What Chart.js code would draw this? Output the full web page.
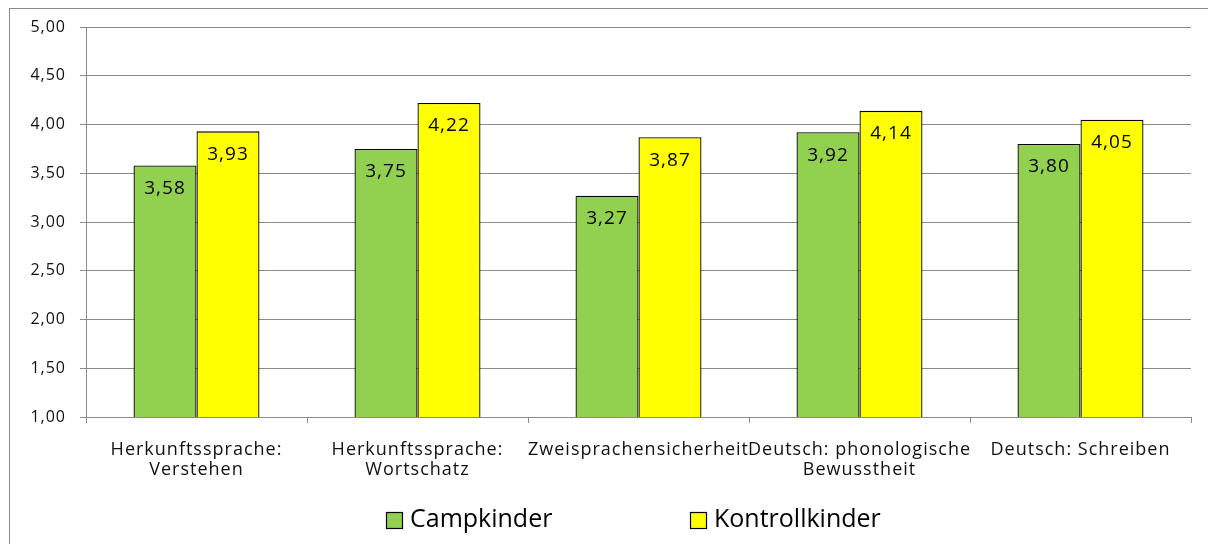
<!DOCTYPE html>
<html>
<head>
<meta charset="utf-8">
<script src="https://cdn.jsdelivr.net/npm/chart.js@4.4.0/dist/chart.umd.min.js"></script>
<style>
  html, body { margin: 0; padding: 0; background: #fff; overflow: hidden; }
  #wrap { position: relative; width: 1208px; height: 544px; }
  #rahmen { position: absolute; left: 9px; top: 8px; width: 1400px; height: 800px; border: 1px solid #8a8a8a; }
  #wrap canvas { position: absolute; left: 0; top: 0; }
</style>
</head>
<body>
<div id="wrap">
  <div id="rahmen"></div>
  <canvas id="myChart" width="1208" height="544"></canvas>
</div>
<script>
// Daten
const kategorien = [
    ['Herkunftssprache:', 'Verstehen'],
    ['Herkunftssprache:', 'Wortschatz'],
    'Zweisprachensicherheit',
    ['Deutsch: phonologische', 'Bewusstheit'],
    'Deutsch: Schreiben'
];
const campkinder = [3.58, 3.75, 3.27, 3.92, 3.80];
const kontrollkinder = [3.93, 4.22, 3.87, 4.14, 4.05];
const serienNamen = ['Campkinder', 'Kontrollkinder'];
const yTicks = [1.0, 1.5, 2.0, 2.5, 3.0, 3.5, 4.0, 4.5, 5.0];

const schrift = "'Open Sans', 'DejaVu Sans', sans-serif";

function komma(v){
    return v.toFixed(2).replace('.', ',');
}

// etwas breitere Schrift wie im Original
const abstandPlugin = {
    id: 'abstand',
    beforeDraw(chart){
        chart.ctx.letterSpacing = '1px';
    }
};

// Werte oben in den Balken
const wertePlugin = {
    id: 'werte',
    afterDatasetsDraw(chart){
        const ctx = chart.ctx;
        ctx.save();
        ctx.letterSpacing = '1px';
        ctx.font = '19px ' + schrift;
        ctx.fillStyle = '#000';
        ctx.textAlign = 'center';
        ctx.textBaseline = 'middle';
        chart.data.datasets.forEach((ds, i) => {
            chart.getDatasetMeta(i).data.forEach((bar, j) => {
                ctx.fillText(komma(ds.data[j]), bar.x, bar.y + 23);
            });
        });
        ctx.restore();
    }
};

// Legende unten
const legendePlugin = {
    id: 'legende',
    afterDraw(chart){
        const ctx = chart.ctx;
        const positionen = [386, 690];
        const y = 520;
        ctx.save();
        ctx.letterSpacing = '0px';
        ctx.font = '25px ' + schrift;
        ctx.textBaseline = 'middle';
        chart.data.datasets.forEach((ds, i) => {
            const x = positionen[i];
            ctx.fillStyle = ds.backgroundColor;
            ctx.fillRect(x, y - 8, 16, 16);
            ctx.strokeStyle = '#000';
            ctx.lineWidth = 1.2;
            ctx.strokeRect(x + 0.5, y - 7.5, 16, 16);
            ctx.fillStyle = '#000';
            ctx.fillText(ds.label, x + 24, y);
        });
        ctx.restore();
    }
};

const ctx = document.getElementById('myChart').getContext('2d');
const myChart = new Chart(ctx, {
    type: 'bar',
    data: {
        labels: kategorien,
        datasets: [{
            label: serienNamen[0],
            data: campkinder,
            backgroundColor: '#92D050',
            borderColor: '#000',
            borderWidth: 1.3
        }, {
            label: serienNamen[1],
            data: kontrollkinder,
            backgroundColor: '#FFFF00',
            borderColor: '#000',
            borderWidth: 1.3
        }]
    },
    options: {
        responsive: false,
        animation: false,
        layout: { padding: { top: 27, right: 17, left: 0, bottom: 0 } },
        datasets: {
            bar: { categoryPercentage: 0.57, barPercentage: 1.0 }
        },
        plugins: {
            legend: { display: false },
            tooltip: { enabled: false }
        },
        scales: {
            x: {
                afterFit: (s) => { s.height = 127; },
                grid: {
                    offset: true,
                    drawOnChartArea: false,
                    drawTicks: true,
                    tickLength: 6,
                    color: '#8a8a8a'
                },
                border: { color: '#8a8a8a', width: 1 },
                ticks: {
                    autoSkip: false,
                    maxRotation: 0,
                    minRotation: 0,
                    padding: 17,
                    color: '#111',
                    font: { family: schrift, size: 18, lineHeight: 1.1 }
                }
            },
            y: {
                min: 1,
                max: 5,
                afterFit: (s) => { s.width = 86; },
                afterBuildTicks: (s) => { s.ticks = yTicks.map(v => ({ value: v })); },
                grid: {
                    color: '#8a8a8a',
                    tickLength: 6
                },
                border: { color: '#8a8a8a', width: 1 },
                ticks: {
                    padding: 14,
                    color: '#111',
                    font: { family: schrift, size: 16 },
                    callback: (v) => komma(v)
                }
            }
        }
    },
    plugins: [abstandPlugin, wertePlugin, legendePlugin]
});
</script>
</body>
</html>
